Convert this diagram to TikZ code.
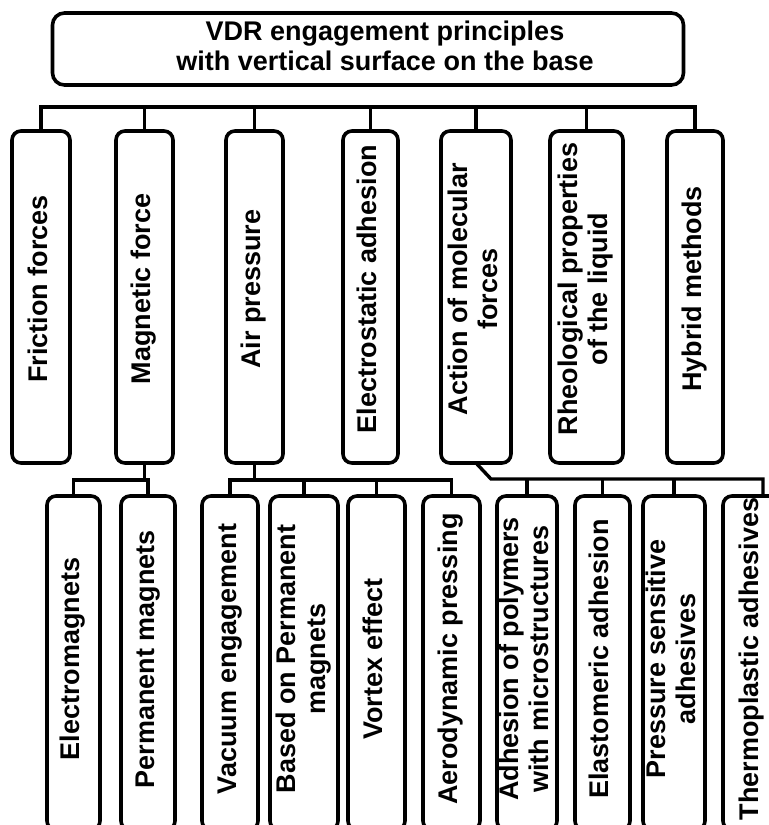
\documentclass[tikz,border=0pt]{standalone}
\usepackage{fontspec}
\setmainfont{Liberation Sans}
\usepackage{tikz}
\usetikzlibrary{positioning}

\newcommand{\vlabel}[2][4pt]{\rotatebox{90}{\hspace*{#1}\begin{tabular}{@{}c@{}}#2\end{tabular}}}

\begin{document}
\begin{tikzpicture}[x=0.5pt, y=-0.5pt,
                    font=\fontsize{13.5}{15}\selectfont\bfseries,
                    cat/.style={rectangle, draw, rounded corners=4.5pt, line width=1.8pt, minimum height=166pt, inner sep=0pt, outer sep=0pt},
                    sub/.style={cat, minimum height=167pt},
                    headbox/.style={rectangle, draw, rounded corners=6pt, line width=1.8pt, minimum width=315.5pt, minimum height=36pt, inner sep=0pt, outer sep=0pt},
                    link/.style={line width=1.7pt}]

\useasboundingbox (0,0) rectangle (769,825);
\clip (0,0) rectangle (769,825);

% Title
\node[headbox] (head) at (368,49) {\hspace*{17pt}\begin{tabular}{@{}c@{}}VDR engagement principles\\with vertical surface on the base\end{tabular}};

% Main groups
\node[cat, minimum width=29pt] (fric) at (41,297) {\vlabel[8pt]{Friction forces}};
\node[cat, minimum width=28.5pt, right=23pt of fric] (magn) {\vlabel[8pt]{Magnetic force}};
\node[cat, minimum width=28.5pt, right=26.5pt of magn] (air) {\vlabel[8pt]{Air pressure}};
\node[cat, minimum width=27.5pt, right=30pt of air] (elec) {\vlabel[8pt]{Electrostatic adhesion}};
\node[cat, minimum width=35pt, right=21.5pt of elec] (act) {\vlabel[8pt]{Action of molecular\\forces}};
\node[cat, minimum width=36.5pt, right=19.5pt of act] (rheo) {\vlabel[8pt]{Rheological properties\\of the liquid}};
\node[cat, minimum width=28pt, right=22pt of rheo] (hyb) {\vlabel[8pt]{Hybrid methods}};

% Sub groups
\node[sub, minimum width=26.5pt, below=16.5pt of magn, xshift=-35.5pt] (elm) {\vlabel{Electromagnets}};
\node[sub, minimum width=27pt, right=10.5pt of elm] (perm) {\vlabel{Permanent magnets}};
\node[sub, minimum width=28pt, right=13.5pt of perm] (vac) {\vlabel{Vacuum engagement}};
\node[sub, minimum width=34pt, right=6pt of vac] (based) {\vlabel{Based on Permanent\\magnets}};
\node[sub, minimum width=28.5pt, right=5pt of based] (vort) {\vlabel{Vortex effect}};
\node[sub, minimum width=28.5pt, right=9pt of vort] (aero) {\vlabel{Aerodynamic pressing}};
\node[sub, minimum width=30pt, right=8.5pt of aero] (poly) {\vlabel{Adhesion of polymers\\with microstructures}};
\node[sub, minimum width=27.5pt, right=9pt of poly] (elast) {\vlabel{Elastomeric adhesion}};
\node[sub, minimum width=31pt, right=6.5pt of elast] (press) {\vlabel{Pressure sensitive\\adhesives}};
\node[sub, minimum width=29pt, right=9pt of press] (thermo) {\vlabel{Thermoplastic adhesives}};

% Connectors, top level
\draw[link] (fric.north) |- ([yshift=12pt]hyb.north) -- (hyb.north);
\foreach \n in {magn,air,elec,act,rheo}
  \draw[link] (\n.north) -- ++(0,12pt);

% Connectors, magnetic force
\draw[link] (magn.south) -- ++(0,-8.5pt) coordinate (mbus) -| (elm.north);
\draw[link] (mbus) -| (perm.north);

% Connectors, air pressure
\draw[link] (air.south) -- ++(0,-8.5pt) coordinate (abus);
\draw[link] (vac.north) |- (abus) -| (aero.north);
\foreach \n in {based,vort}
  \draw[link] (\n.north) -- (\n.north |- abus);

% Connectors, molecular forces
\draw[link] (act.south) -- ++(7.5pt,-8pt) coordinate (fbus) -| ([xshift=5.5pt]thermo.north);
\foreach \n in {poly,elast,press}
  \draw[link] (\n.north) -- (\n.north |- fbus);

\end{tikzpicture}
\end{document}
